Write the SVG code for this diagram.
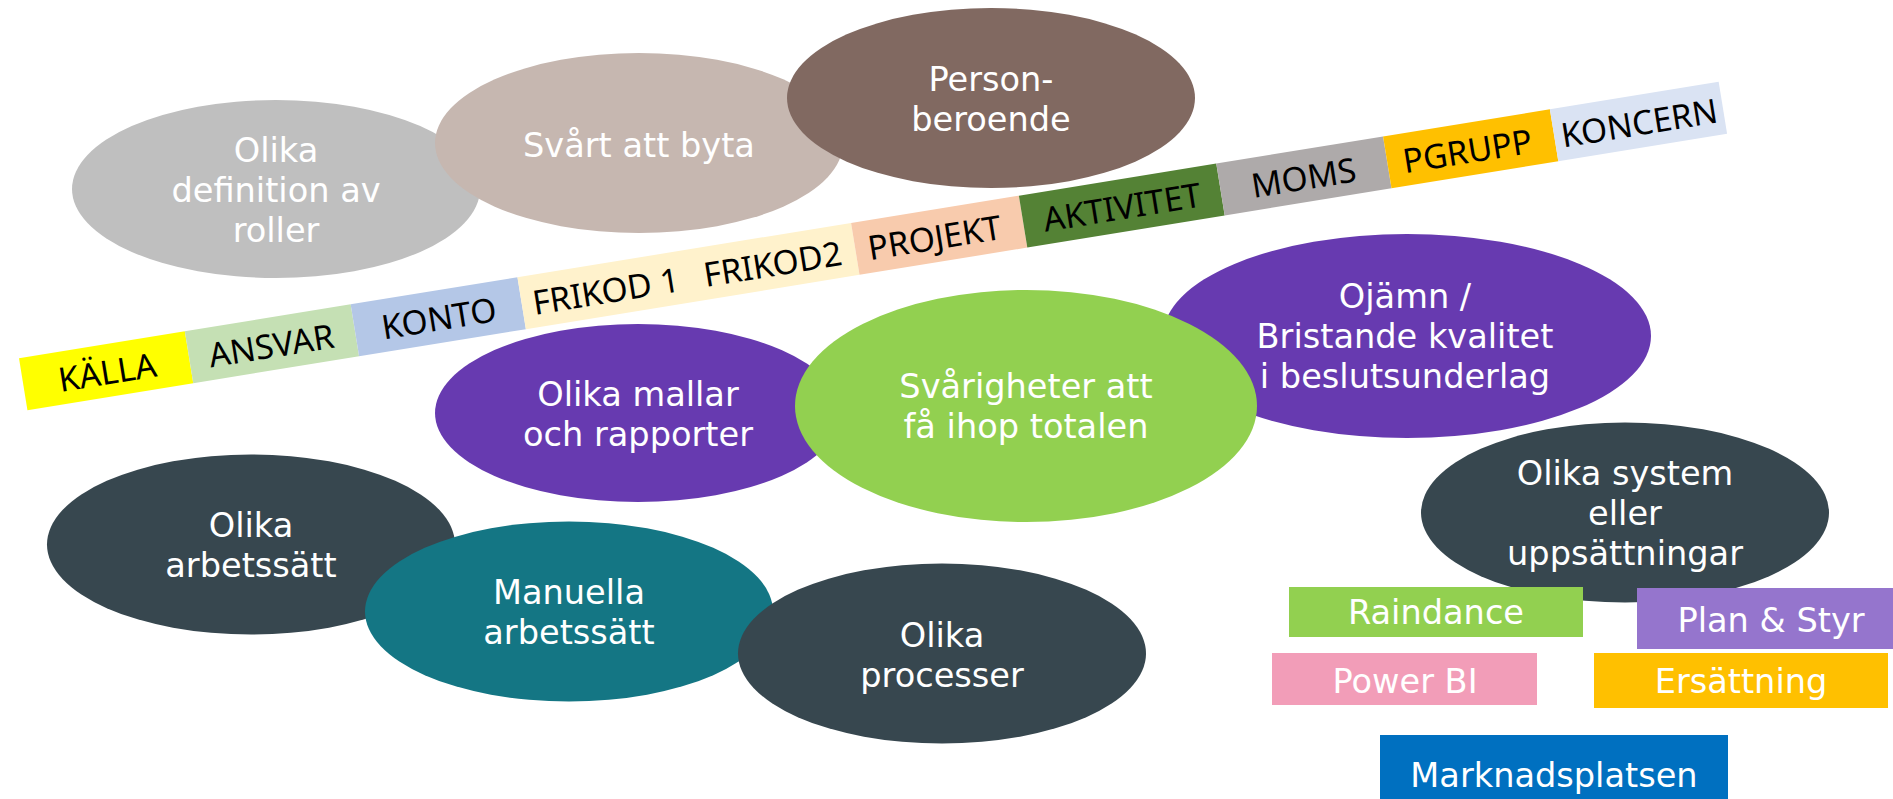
<svg xmlns="http://www.w3.org/2000/svg" width="1893" height="799" viewBox="0 0 1893 799">
<style>
.t{font-family:"DejaVu Sans","Liberation Sans",sans-serif;font-size:33.6px;fill:#FFFFFF;text-anchor:middle}
.b{font-family:"Noto Sans","Open Sans","Liberation Sans",sans-serif;font-size:33.5px;fill:#000000;text-anchor:middle}
.dark{fill:#37474F}
.purple{fill:#673AB0}
</style>
<rect x="0" y="0" width="1893" height="799" fill="#FFFFFF"/>
<g id="n-definition">
<ellipse cx="276" cy="189" rx="204" ry="89" fill="#BFBFBF"/>
<text class="t" x="276" y="162">Olika</text>
<text class="t" x="276" y="202">definition av</text>
<text class="t" x="276" y="242">roller</text>
</g>
<g id="n-svart">
<ellipse cx="639" cy="143" rx="204" ry="90" fill="#C6B7B0"/>
<text class="t" x="639" y="157">Svårt att byta</text>
</g>
<g id="n-person">
<ellipse cx="991" cy="98" rx="204" ry="90" fill="#816961"/>
<text class="t" x="991" y="91">Person-</text>
<text class="t" x="991" y="131">beroende</text>
</g>
<g id="n-strip" transform="translate(19,358.3) rotate(-9.24)">
<rect x="0" y="0" width="168" height="52.6" fill="#FFFF00"/>
<rect x="168" y="0" width="168" height="52.6" fill="#C5E0B4"/>
<rect x="336" y="0" width="169" height="52.6" fill="#B4C7E7"/>
<rect x="505" y="0" width="338" height="52.6" fill="#FFF2CC"/>
<rect x="843" y="0" width="170" height="52.6" fill="#F8CBAD"/>
<rect x="1013" y="0" width="200" height="52.6" fill="#548235"/>
<rect x="1213" y="0" width="169" height="52.6" fill="#AEAAAA"/>
<rect x="1382" y="0" width="169" height="52.6" fill="#FFC000"/>
<rect x="1551" y="0" width="171" height="52.6" fill="#DAE3F3"/>
<text class="b" x="85" y="40">KÄLLA</text>
<text class="b" x="251" y="40">ANSVAR</text>
<text class="b" x="421" y="40">KONTO</text>
<text class="b" x="590" y="40">FRIKOD 1</text>
<text class="b" x="759" y="40">FRIKOD2</text>
<text class="b" x="923" y="40">PROJEKT</text>
<text class="b" x="1113" y="40">AKTIVITET</text>
<text class="b" x="1297" y="40">MOMS</text>
<text class="b" x="1463" y="40">PGRUPP</text>
<text class="b" x="1637" y="40">KONCERN</text>
</g>
<g id="n-mallar">
<ellipse class="purple" cx="638" cy="413" rx="203" ry="89"/>
<text class="t" x="638" y="406">Olika mallar</text>
<text class="t" x="638" y="446">och rapporter</text>
</g>
<g id="n-ojamn">
<ellipse class="purple" cx="1407" cy="336" rx="244" ry="102"/>
<text class="t" x="1405" y="308">Ojämn /</text>
<text class="t" x="1405" y="348">Bristande kvalitet</text>
<text class="t" x="1405" y="388">i beslutsunderlag</text>
</g>
<g id="n-svarigheter">
<ellipse cx="1026" cy="406" rx="231" ry="116" fill="#92D050"/>
<text class="t" x="1026" y="398">Svårigheter att</text>
<text class="t" x="1026" y="438">få ihop totalen</text>
</g>
<g id="n-system">
<ellipse class="dark" cx="1625" cy="512.5" rx="204" ry="90"/>
<text class="t" x="1625" y="485">Olika system</text>
<text class="t" x="1625" y="525">eller</text>
<text class="t" x="1625" y="565">uppsättningar</text>
</g>
<g id="n-arbetssatt">
<ellipse class="dark" cx="251" cy="544.5" rx="204" ry="90"/>
<text class="t" x="251" y="537">Olika</text>
<text class="t" x="251" y="577">arbetssätt</text>
</g>
<g id="n-manuella">
<ellipse cx="569" cy="611.5" rx="204" ry="90" fill="#147684"/>
<text class="t" x="569" y="604">Manuella</text>
<text class="t" x="569" y="644">arbetssätt</text>
</g>
<g id="n-processer">
<ellipse class="dark" cx="942" cy="653.5" rx="204" ry="90"/>
<text class="t" x="942" y="647">Olika</text>
<text class="t" x="942" y="687">processer</text>
</g>
<g id="n-raindance">
<rect x="1289" y="587" width="294" height="50" fill="#92D050"/>
<text class="t" x="1436" y="624">Raindance</text>
</g>
<g id="n-planstyr">
<rect x="1637" y="588" width="270" height="61" fill="#9575CD"/>
<text class="t" x="1771" y="632">Plan &amp; Styr</text>
</g>
<g id="n-powerbi">
<rect x="1272" y="653" width="265" height="52" fill="#F29DB8"/>
<text class="t" x="1405" y="693">Power BI</text>
</g>
<g id="n-ersattning">
<rect x="1594" y="653" width="294" height="55" fill="#FFC000"/>
<text class="t" x="1741" y="693">Ersättning</text>
</g>
<g id="n-marknadsplatsen">
<rect x="1380" y="735" width="348" height="80" fill="#0070C0"/>
<text class="t" x="1554" y="787">Marknadsplatsen</text>
</g>
<g id="connectors"/>
</svg>
